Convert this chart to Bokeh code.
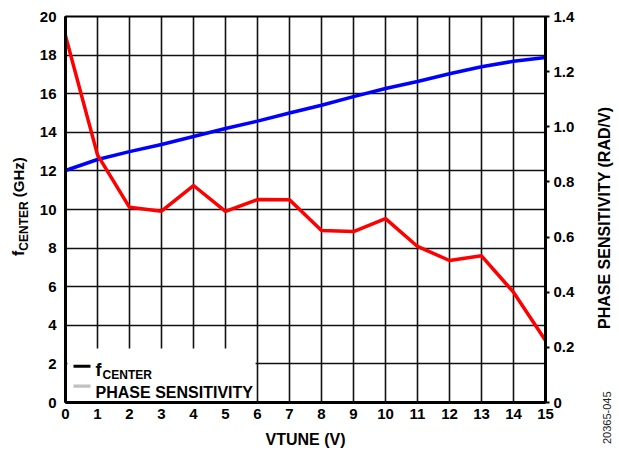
from bokeh.plotting import figure
from bokeh.layouts import row
from bokeh.models import (Range1d, LinearAxis, FixedTicker, Label, BoxAnnotation, Div)
from bokeh.embed import file_html
from bokeh.resources import INLINE

# ---- data ----
vtune = [0, 1, 2, 3, 4, 5, 6, 7, 8, 9, 10, 11, 12, 13, 14, 15]
f_center_ghz = [12.02, 12.59, 13.0, 13.37, 13.78, 14.2, 14.58, 15.0, 15.4, 15.85,
                16.27, 16.63, 17.03, 17.4, 17.68, 17.87]
phase_sens = [1.33, 0.898, 0.708, 0.694, 0.787, 0.693, 0.736, 0.735, 0.624, 0.62,
              0.667, 0.566, 0.515, 0.532, 0.40, 0.225]
x_ticks = list(range(0, 16))
y_ticks = list(range(0, 21, 2))
y2_ticks = [0, 0.2, 0.4, 0.6, 0.8, 1.0, 1.2, 1.4]
y2_labels = ["0", "0.2", "0.4", "0.6", "0.8", "1.0", "1.2", "1.4"]

FONT = "Liberation Sans"
H = 458


def lab(fig, x, y, text, size, style="bold", align="left", baseline="alphabetic",
        color="black"):
    fig.add_layout(Label(x=x, y=y, text=text, text_font=FONT, text_font_style=style,
                         text_font_size=size, text_align=align,
                         text_baseline=baseline, text_color=color))


# ---- main chart ----
p = figure(width=560, height=H, x_range=Range1d(0, 15), y_range=Range1d(0, 20),
           output_backend="svg", toolbar_location=None,
           min_border_left=35, min_border_right=45, min_border_top=16, min_border_bottom=56)
p.extra_y_ranges = {"ps": Range1d(0, 1.4)}

p.outline_line_color = "black"
p.outline_line_width = 2
p.background_fill_color = "white"
p.border_fill_color = "white"

for g in (p.xgrid, p.ygrid):
    g.grid_line_color = "#111111"
    g.grid_line_width = 1.6
p.xgrid.ticker = FixedTicker(ticks=x_ticks)
p.ygrid.ticker = FixedTicker(ticks=y_ticks)


def style_axis(ax, tick_out=0):
    ax.axis_line_width = 3
    ax.axis_line_color = "black"
    ax.major_tick_in = 0
    ax.major_tick_out = tick_out
    ax.major_tick_line_width = 2
    ax.minor_tick_in = 0
    ax.minor_tick_out = 0
    ax.major_label_text_font = FONT
    ax.major_label_text_font_style = "bold"
    ax.major_label_text_font_size = "15px"
    ax.major_label_text_color = "black"


xa = p.xaxis[0]
xa.ticker = FixedTicker(ticks=x_ticks)
style_axis(xa)
xa.major_label_standoff = 6
xa.axis_label = "VTUNE (V)"
xa.axis_label_text_font = FONT
xa.axis_label_text_font_style = "bold"
xa.axis_label_text_font_size = "16px"
xa.axis_label_text_color = "black"
xa.axis_label_standoff = 9

ya = p.yaxis[0]
ya.ticker = FixedTicker(ticks=y_ticks)
style_axis(ya)
ya.major_label_standoff = 9

ya2 = LinearAxis(y_range_name="ps", ticker=FixedTicker(ticks=y2_ticks))
style_axis(ya2, tick_out=4)
ya2.major_label_standoff = 4
ya2.major_label_overrides = {t: l for t, l in zip(y2_ticks, y2_labels)}
p.add_layout(ya2, "right")

# ---- data lines ----
p.line(vtune, f_center_ghz, line_color="#0000ff", line_width=3.5)
p.line(vtune, phase_sens, y_range_name="ps", line_color="#ff0000", line_width=3.5)

# ---- legend (manual, to allow subscript) ----
p.add_layout(BoxAnnotation(left=0.06, right=5.94, bottom=0.08, top=2.80,
                           fill_color="white", fill_alpha=1.0, line_alpha=0,
                           level="underlay"))
p.add_layout(BoxAnnotation(left=0.25, right=0.78, bottom=1.80, top=1.96,
                           fill_color="black", fill_alpha=1.0, line_alpha=0))
p.add_layout(BoxAnnotation(left=0.25, right=0.78, bottom=0.77, top=0.93,
                           fill_color="#c0c0c0", fill_alpha=1.0, line_alpha=0))
lab(p, 0.94, 1.66, "f", "18px")
lab(p, 1.16, 1.40, "CENTER", "12px")
lab(p, 0.94, 0.52, "PHASE SENSITIVITY", "16px")

# ---- side titles as HTML text (rotated, reading bottom to top) ----
ROT = ("position:absolute; transform-origin:0 0; transform:rotate(-90deg); "
       "white-space:nowrap; line-height:1; color:black; "
       "font-family:'Liberation Sans', Arial, sans-serif;")

left_html = (
    '<div style="position:relative; width:30px; height:458px; overflow:visible;">'
    f'<span style="{ROT} left:11px; top:256px; font-weight:bold; font-size:15px;">'
    '<span style="font-size:16px;">f</span>'
    '<span style="font-size:12px; vertical-align:-4px;">CENTER</span>'
    ' (GHz)</span></div>'
)
right_html = (
    '<div style="position:relative; width:29px; height:458px; overflow:visible;">'
    f'<span style="{ROT} left:7px; top:329px; font-weight:bold; font-size:16px;">'
    'PHASE SENSITIVITY (RAD/V)</span>'
    f'<span style="{ROT} left:12px; top:444px; font-weight:normal; font-size:11px; '
    'color:#222;">20365-045</span></div>'
)
left = Div(text=left_html, width=30, height=H, margin=0)
right = Div(text=right_html, width=29, height=H, margin=0)

layout = row(left, p, right, spacing=0)
open("out.html", "w").write(file_html(layout, INLINE))
